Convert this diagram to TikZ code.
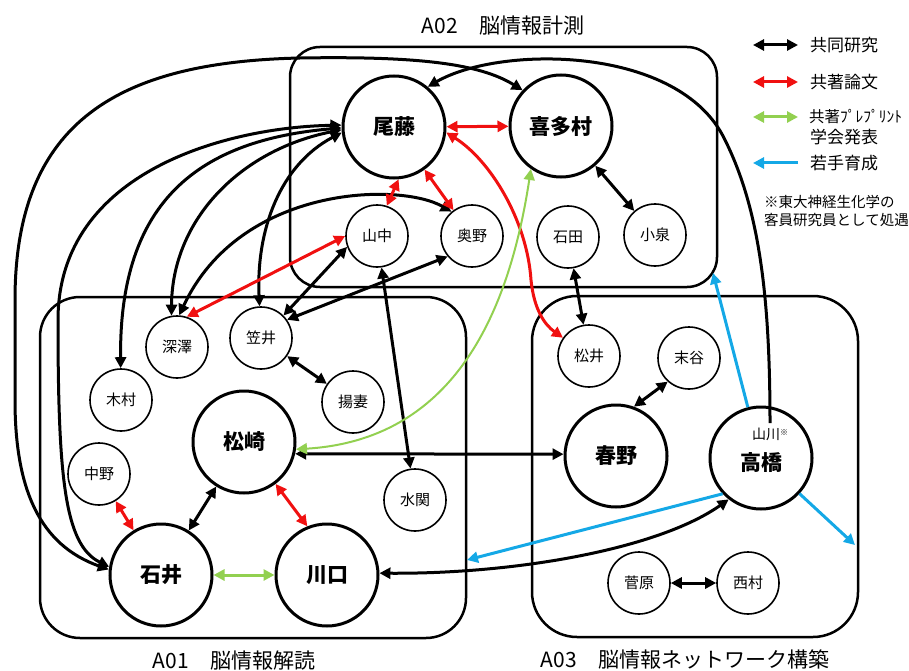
\documentclass[tikz,border=0pt]{standalone}
\usepackage{fontspec}
\setmainfont{Noto Sans CJK JP}
\usetikzlibrary{arrows.meta}
\definecolor{cred}{HTML}{F01010}
\definecolor{cgreen}{HTML}{92D050}
\definecolor{cblue}{HTML}{14A8E6}
\begin{document}
\begin{tikzpicture}[x=1pt,y=-1pt,
  big/.style={circle,draw,line width=3pt,minimum size=102pt,inner sep=0pt,font=\fontsize{21}{21}\selectfont\bfseries},
  small/.style={circle,draw,line width=1.6pt,minimum size=62pt,inner sep=0pt,font=\fontsize{15}{15}\selectfont},
  bigtext/.style={inner sep=0pt,font=\fontsize{21}{21}\selectfont\bfseries},
  grp/.style={draw,line width=2.5pt},
  ttl/.style={inner sep=0pt,font=\fontsize{21}{21}\selectfont},
  lgt/.style={anchor=west,inner sep=0pt,font=\fontsize{17}{17}\selectfont},
  lgn/.style={anchor=west,inner sep=0pt,font=\fontsize{14.5}{14.5}\selectfont},
  conn/.style={line width=3pt,{Triangle[length=11pt,width=11pt]}-{Triangle[length=11pt,width=11pt]}},
  blk/.style={conn,draw=black},
  rd/.style={conn,draw=cred},
  gr/.style={conn,draw=cgreen},
  bl/.style={line width=3pt,draw=cblue,-{Triangle[length=11pt,width=11pt]}},
]
\useasboundingbox (0,0) rectangle (909,671);

% group boxes
\draw[grp,rounded corners=30pt] (290,47) rectangle (717,287);
\draw[grp,rounded corners=40pt] (40,297) rectangle (466,638);
\draw[grp,rounded corners=45pt] (532,296) rectangle (858,637);

% titles
\node[ttl] (t2) at (503,26) {A02　脳情報計測};
\node[ttl] (t1) at (234,661) {A01　脳情報解読};
\node[ttl] (t3) at (685,659) {A03　脳情報ネットワーク構築};

% nodes
\node[big] (bito) at (394,127) {尾藤};
\node[big] (kita) at (561,126) {喜多村};
\node[small] (yamanaka) at (377,236) {山中};
\node[small] (okuno) at (472,236) {奥野};
\node[small] (ishida) at (568,237) {石田};
\node[small] (koizumi) at (655,235) {小泉};
\node[small] (fukazawa) at (177,347) {深澤};
\node[small] (kasai) at (261,338) {笠井};
\node[small] (kimura) at (121,400) {木村};
\node[small] (agetsuma) at (353,402) {揚妻};
\node[big] (matsuzaki) at (244,442) {松崎};
\node[small] (nakano) at (99,474) {中野};
\node[small] (mizuseki) at (415,500) {水関};
\node[big] (ishii) at (161,575) {石井};
\node[big] (kawaguchi) at (327,575) {川口};
\node[small] (matsui) at (589,356) {松井};
\node[small] (sueya) at (689,358) {末谷};
\node[big] (haruno) at (616,456) {春野};
\node[big] (takahashi) at (761,458) {};
\node[bigtext] (takalabel) at (761,463) {高橋};
\node[inner sep=0pt,font=\fontsize{14}{14}\selectfont] (yamakawa) at (770,434) {山川\raisebox{0.45ex}{\fontsize{8}{8}\selectfont ※}};
\coordinate (yk) at (770,423);
\node[small] (sugawara) at (639,583) {菅原};
\node[small] (nishimura) at (748,583) {西村};

% long black curves
\draw[blk] (kita.137) .. controls (480,64) and (420,56) .. (300,58)
   .. controls (120,62) and (15,120) .. (15,300) -- (15,400)
   .. controls (15,490) and (40,545) .. (ishii.174);
\draw[blk] (bito.178) .. controls (230,127) and (58,170) .. (58,320)
   .. controls (58,480) and (65,545) .. (ishii.171);
\draw[blk] (bito.181) .. controls (200,140) and (119,200) .. (kimura);
\draw[blk] (bito.183) .. controls (240,150) and (172,220) .. (fukazawa.100);
\draw[blk] (bito.186) .. controls (280,165) and (256,230) .. (kasai);
\draw[blk] (okuno.130) .. controls (400,182) and (240,185) .. (fukazawa.86);
\draw[line width=3pt,{Triangle[length=11pt,width=11pt]}-] (bito.50) .. controls (500,45) and (680,45) .. (725,140)
   .. controls (760,210) and (770,300) .. (yk);

% red
\draw[rd] (bito) -- (kita);
\draw[rd] (bito.-85) -- (yamanaka.72);
\draw[rd] (bito) -- (okuno);
\draw[rd] (yamanaka.180) -- (fukazawa.72);
\draw[rd] (bito.-6) .. controls (490,160) and (527,220) .. (531,280)
   .. controls (534,310) and (545,325) .. (matsui.145);
\draw[rd] (nakano) -- (ishii);
\draw[rd] (matsuzaki.-53) -- (kawaguchi.112);

% black straight
\draw[blk] (yamanaka.200) -- (kasai.45);
\draw[blk] (okuno.220) -- (kasai.35);
\draw[blk] (yamanaka) -- (mizuseki);
\draw[blk] (kasai) -- (agetsuma);
\draw[blk] (matsuzaki.-13) -- (haruno.178);
\draw[blk] (matsuzaki) -- (ishii);
\draw[blk] (kita) -- (koizumi);
\draw[blk] (ishida) -- (matsui);
\draw[blk] (sueya.228) -- (haruno.70);
\draw[blk] (sugawara) -- (nishimura);
\draw[blk] (kawaguchi.2) .. controls (520,574) and (660,548) .. (takahashi.232);

% green
\draw[gr,line width=2pt] (kita.235) .. controls (508,320) and (450,440) .. (matsuzaki.-8);
\draw[gr] (ishii) -- (kawaguchi);

% blue
\coordinate (b1) at (713,273);
\coordinate (b2) at (855,545);
\coordinate (b3) at (467,560);
\draw[bl] (takahashi) -- (b1);
\draw[bl] (takahashi) -- (b2);
\draw[bl] (takahashi.223) -- (b3);

% legend
\coordinate (l1a) at (753,45); \coordinate (l1b) at (798,45);
\coordinate (l2a) at (753,82); \coordinate (l2b) at (798,82);
\coordinate (l3a) at (753,117); \coordinate (l3b) at (798,117);
\coordinate (l4a) at (753,163); \coordinate (l4b) at (798,163);
\draw[blk] (l1a) -- (l1b);
\draw[rd] (l2a) -- (l2b);
\draw[gr] (l3a) -- (l3b);
\draw[bl] (l4b) -- (l4a);
\node[lgt] (lt1) at (810,45) {共同研究};
\node[lgt] (lt2) at (810,82) {共著論文};
\node[lgt,font=\fontsize{15.5}{15.5}\selectfont] (lt3) at (809,117) {共著ﾌﾟﾚﾌﾟﾘﾝﾄ};
\node[lgt] (lt3b) at (810,137) {学会発表};
\node[lgt] (lt4) at (810,163) {若手育成};
\node[lgn] (ln1) at (764,202) {※東大神経生化学の};
\node[lgn] (ln2) at (764,220) {客員研究員として処遇};
\end{tikzpicture}
\end{document}
